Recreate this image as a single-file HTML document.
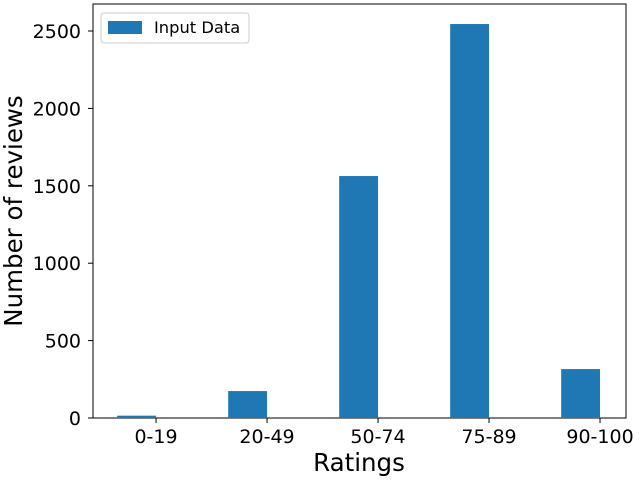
<!DOCTYPE html>
<html><head><meta charset="utf-8"><style>
body{margin:0;background:#fff;font-family:"DejaVu Sans","Liberation Sans",sans-serif}
svg text{font-family:"DejaVu Sans","Liberation Sans",sans-serif}
</style></head><body>
<svg id="chart" width="640" height="480" xmlns="http://www.w3.org/2000/svg">
<rect x="93" y="4" width="533" height="414" fill="none" stroke="#000" stroke-width="1"/>
<g id="bars"></g><g id="axes"></g>
<text x="359" y="471" font-size="24.5" text-anchor="middle">Ratings</text>
<text transform="translate(22,211) rotate(-90)" font-size="24.5" text-anchor="middle">Number of reviews</text>
<g>
<rect x="101" y="13" width="148" height="30" rx="3" fill="#fff" stroke="#ccc"/>
<rect x="108" y="21" width="34" height="13" fill="#1f77b4"/>
<text x="154" y="33" font-size="16.3">Input Data</text>
</g>
</svg>
<script>
const categories=["0-19","20-49","50-74","75-89","90-100"];
const values=[15,174,1563,2545,316];
const yTicks=[0,500,1000,1500,2000,2500];
const NS="http://www.w3.org/2000/svg";
const x0=93,x1=626,xmin=-0.568,xmax=4.234;
const xs=v=>x0+(v-xmin)/(xmax-xmin)*(x1-x0);
const ys=v=>418-v*(387/2500);
const bars=document.getElementById('bars'),axes=document.getElementById('axes');
function mk(t,a,p){const e=document.createElementNS(NS,t);for(const k in a)e.setAttribute(k,a[k]);p.appendChild(e);return e;}
values.forEach((v,i)=>{
 const r=mk('rect',{x:xs(i-0.35),y:ys(v),width:xs(i)-xs(i-0.35),height:418-ys(v),fill:'#1f77b4'},bars);
 
 
});
categories.forEach((c,i)=>{
 const x=xs(i);
 mk('line',{x1:x,x2:x,y1:418,y2:423,stroke:'#000'},axes);
 const t=mk('text',{x:x,y:443,'font-size':19,'text-anchor':'middle'},axes);t.textContent=c;
 
 
});
yTicks.forEach(v=>{
 const y=ys(v);
 mk('line',{x1:88,x2:93,y1:y,y2:y,stroke:'#000'},axes);
 const t=mk('text',{x:81,y:y+7,'font-size':19,'text-anchor':'end'},axes);t.textContent=v;
 
 
});
</script>
</body></html>
